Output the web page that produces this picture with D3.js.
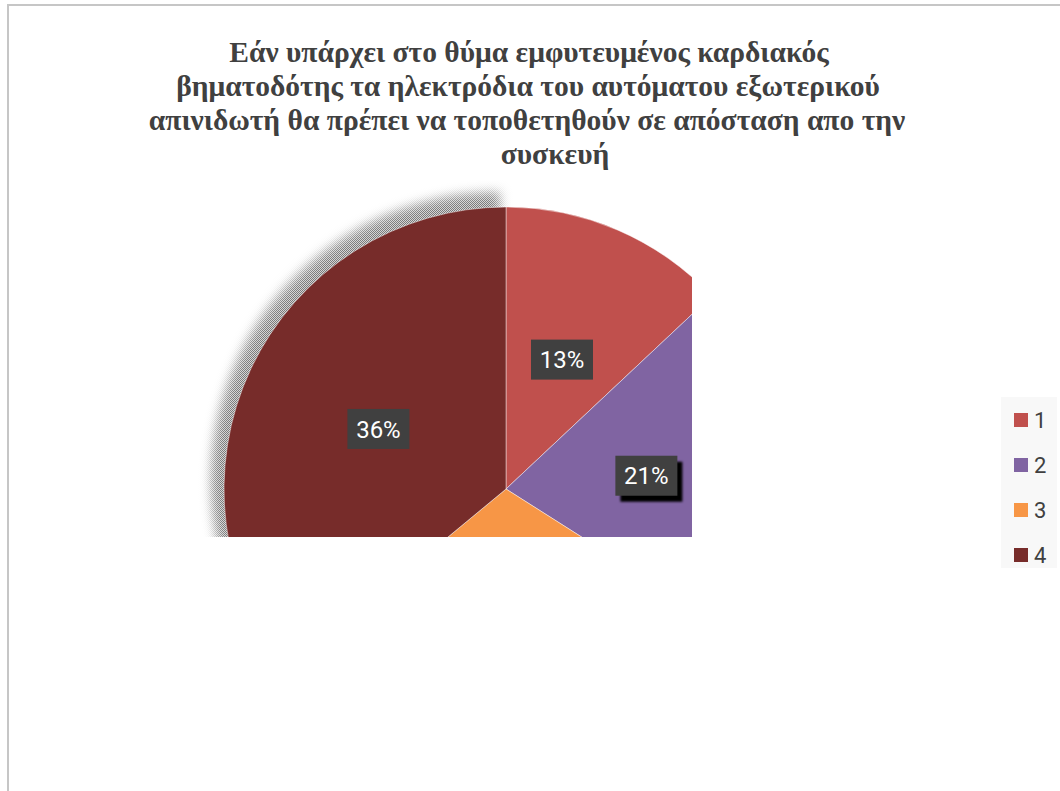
<!DOCTYPE html>
<html>
<head>
<meta charset="utf-8">
<script src="https://cdn.jsdelivr.net/npm/d3@7"></script>
<style>
  html, body { margin: 0; padding: 0; background: #fff; }
  svg { display: block; }
</style>
</head>
<body>
<svg id="chart" width="1060" height="791"></svg>
<script>
// Survey answers: share of respondents per option
const categories = ["1", "2", "3", "4"];
const shares = [13, 21, 30, 36];
const labels = ["13%", "21%", "30%", "36%"];
const colors = ["#c0504d", "#8064a2", "#f79646", "#772c2a"];
const titleLines = [
  "Εάν υπάρχει στο θύμα εμφυτευμένος καρδιακός",
  "βηματοδότης τα ηλεκτρόδια του αυτόματου εξωτερικού",
  "απινιδωτή θα πρέπει να τοποθετηθούν σε απόσταση απο την",
  "συσκευή"
];

const svg = d3.select("#chart");
const defs = svg.append("defs");

// chart frame
svg.append("rect")
  .attr("x", 8).attr("y", 5)
  .attr("width", 1080).attr("height", 820)
  .attr("fill", "#fff")
  .attr("stroke", "#c6c6c6").attr("stroke-width", 2);

// title
const titleX = [529, 528, 527, 555];
const titleY = [62, 96, 130, 164];
svg.append("g").selectAll("text")
  .data(titleLines)
  .join("text")
  .attr("x", (d, i) => titleX[i])
  .attr("y", (d, i) => titleY[i])
  .attr("text-anchor", "middle")
  .attr("font-family", "'Liberation Serif', 'Times New Roman', serif")
  .attr("font-weight", "bold")
  .attr("font-size", 29.5)
  .attr("fill", "#404040")
  .text(d => d);

// pie geometry
const cx = 506, cy = 489, radius = 282;
const pie = d3.pie().sort(null).value(d => d);
const arcs = pie(shares);
const arc = d3.arc().innerRadius(0).outerRadius(radius);

// plot area clip
defs.append("clipPath").attr("id", "plotClip")
  .append("rect")
  .attr("x", 150).attr("y", 180)
  .attr("width", 692 - 150).attr("height", 537 - 180);

// dithered shadow pattern
const pat = defs.append("pattern").attr("id", "dither")
  .attr("width", 2).attr("height", 2)
  .attr("patternUnits", "userSpaceOnUse");
pat.append("rect").attr("width", 2).attr("height", 2).attr("fill", "#d4d4d4");
pat.append("rect").attr("width", 1).attr("height", 1).attr("fill", "#7a7a7a");
pat.append("rect").attr("x", 1).attr("y", 1).attr("width", 1).attr("height", 1).attr("fill", "#7a7a7a");

defs.append("filter").attr("id", "softBlur")
  .attr("x", "-20%").attr("y", "-20%").attr("width", "140%").attr("height", "140%")
  .append("feGaussianBlur").attr("stdDeviation", 5);

const mask = defs.append("mask").attr("id", "shadowMask")
  .attr("maskUnits", "userSpaceOnUse")
  .attr("x", 0).attr("y", 0).attr("width", 1060).attr("height", 791);
mask.append("path")
  .attr("d", arc(arcs[3]))
  .attr("transform", `translate(${cx - 6},${cy - 8}) scale(1.025)`)
  .attr("fill", "#fff")
  .attr("filter", "url(#softBlur)");

const plot = svg.append("g").attr("clip-path", "url(#plotClip)");

// shadow behind the largest slice
plot.append("rect")
  .attr("x", 150).attr("y", 180).attr("width", 560).attr("height", 380)
  .attr("fill", "url(#dither)")
  .attr("mask", "url(#shadowMask)");

const pieG = plot.append("g").attr("transform", `translate(${cx},${cy})`);
pieG.selectAll("path")
  .data(arcs)
  .join("path")
  .attr("d", arc)
  .attr("fill", (d, i) => colors[i])
  .attr("stroke", "rgba(255,255,255,0.55)")
  .attr("stroke-width", 0.8);

// data labels
defs.append("filter").attr("id", "boxShadow")
  .append("feGaussianBlur").attr("stdDeviation", 0.8);

const boxW = 62, boxH = 40;
const lab = pieG.selectAll("g.lab")
  .data(arcs)
  .join("g")
  .attr("class", "lab")
  .attr("transform", d => `translate(${arc.centroid(d)})`);

lab.filter((d, i) => i === 1).append("rect")
  .attr("x", -boxW / 2 + 5).attr("y", -boxH / 2 + 6)
  .attr("width", boxW).attr("height", boxH)
  .attr("fill", "#000")
  .attr("filter", "url(#boxShadow)");

lab.append("rect")
  .attr("x", -boxW / 2).attr("y", -boxH / 2)
  .attr("width", boxW).attr("height", boxH)
  .attr("fill", "#404040");

lab.append("text")
  .attr("text-anchor", "middle")
  .attr("dy", "0.36em")
  .attr("font-family", "Roboto, 'Open Sans', sans-serif")
  .attr("font-size", 24)
  .attr("fill", "#fff")
  .text((d, i) => labels[i]);

// legend
svg.append("rect")
  .attr("x", 1001).attr("y", 397)
  .attr("width", 56).attr("height", 171)
  .attr("fill", "#f8f8f8");

const legend = svg.append("g").selectAll("g")
  .data(categories)
  .join("g")
  .attr("transform", (d, i) => `translate(1014,${420 + i * 45})`);
legend.append("rect")
  .attr("x", 0).attr("y", -7)
  .attr("width", 14).attr("height", 14)
  .attr("fill", (d, i) => colors[i]);
legend.append("text")
  .attr("x", 20).attr("dy", "0.36em")
  .attr("font-family", "Roboto, 'Open Sans', sans-serif")
  .attr("font-size", 22)
  .attr("fill", "#404040")
  .text(d => d);
</script>
</body>
</html>
